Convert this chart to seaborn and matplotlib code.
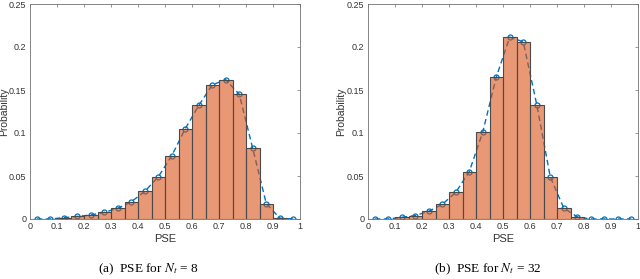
import numpy as np
import pandas as pd
import matplotlib
matplotlib.use("Agg")
import matplotlib.pyplot as plt
import seaborn as sns

# bin centres of the PSE histograms (bin width 0.05)
pse_centers = [0.025, 0.075, 0.125, 0.175, 0.225, 0.275, 0.325, 0.375, 0.425, 0.475,
               0.525, 0.575, 0.625, 0.675, 0.725, 0.775, 0.825, 0.875, 0.925, 0.975]

# probability per bin, N_t = 8
prob_nt8 = [0.0, 0.0, 0.0015, 0.003, 0.0046, 0.0077, 0.0125, 0.020, 0.032, 0.049,
            0.0735, 0.105, 0.132, 0.156, 0.162, 0.145, 0.082, 0.018, 0.001, 0.0]
# probability per bin, N_t = 32
prob_nt32 = [0.0, 0.0, 0.002, 0.004, 0.009, 0.017, 0.031, 0.055, 0.101, 0.165,
             0.2115, 0.206, 0.133, 0.049, 0.0127, 0.0025, 0.0, 0.0, 0.0, 0.0]

captions = ["(a)  PSE for $N_t$ = 8", "(b)  PSE for $N_t$ = 32"]
x_ticks = [0, 0.1, 0.2, 0.3, 0.4, 0.5, 0.6, 0.7, 0.8, 0.9, 1]
x_ticklabels = ["0", "0.1", "0.2", "0.3", "0.4", "0.5", "0.6", "0.7", "0.8", "0.9", "1"]
y_ticks = [0, 0.05, 0.1, 0.15, 0.2, 0.25]
y_ticklabels = ["0", "0.05", "0.1", "0.15", "0.2", "0.25"]

sns.set_style("white")
plt.rcParams['font.family'] = ['Liberation Sans', 'DejaVu Sans']
plt.rcParams['mathtext.fontset'] = 'stix'

ml_blue = (0.0, 0.447, 0.741)
ml_orange = (0.85, 0.325, 0.098)
axis_col = "#707070"

fig = plt.figure(figsize=(6.4, 2.79), dpi=100)
ax_left = fig.add_axes([30 / 640, 60 / 279, 270 / 640, 215 / 279])
ax_right = fig.add_axes([368 / 640, 60 / 279, 270 / 640, 215 / 279])

panels = [(ax_left, prob_nt8, captions[0], 148 / 640, -0.077),
          (ax_right, prob_nt32, captions[1], 488 / 640, -0.08)]

for ax, probs, cap, cx, ylab_x in panels:
    df = pd.DataFrame({"PSE": pse_centers, "Probability": probs})
    sns.lineplot(data=df, x="PSE", y="Probability", ax=ax, color=ml_blue,
                 linestyle=(0, (4, 2.5)), linewidth=1.0, marker="o", markersize=3.6,
                 markerfacecolor="none", markeredgecolor=ml_blue, markeredgewidth=0.9,
                 zorder=1)
    sns.histplot(data=df, x="PSE", weights="Probability", binwidth=0.05, binrange=(0, 1),
                 ax=ax, stat="count", color=ml_orange, alpha=0.6, edgecolor="#4a4a4a",
                 linewidth=0.8, zorder=2)
    ax.set_xlim(0, 1)
    ax.set_ylim(0, 0.25)
    ax.set_xticks(x_ticks)
    ax.set_xticklabels(x_ticklabels)
    ax.set_yticks(y_ticks)
    ax.set_yticklabels(y_ticklabels)
    ax.tick_params(direction="in", length=2.5, width=0.5, labelsize=6.5,
                   colors=axis_col, top=True, right=True, pad=2.5)
    ax.tick_params(axis="x", labelcolor="#333333")
    ax.tick_params(axis="y", labelcolor="#333333")
    for sp in ax.spines.values():
        sp.set_visible(True)
        sp.set_color(axis_col)
        sp.set_linewidth(0.6)
    ax.set_xlabel("PSE", fontsize=8, color="#333333", labelpad=2)
    ax.set_ylabel("Probability", fontsize=7.5, color="#333333")
    ax.yaxis.set_label_coords(ylab_x, 0.5)
    fig.text(cx, 0.035, cap, ha="center", va="center", fontsize=9.5,
             family="Liberation Serif", color="black")

plt.savefig("out.png", dpi=100)
